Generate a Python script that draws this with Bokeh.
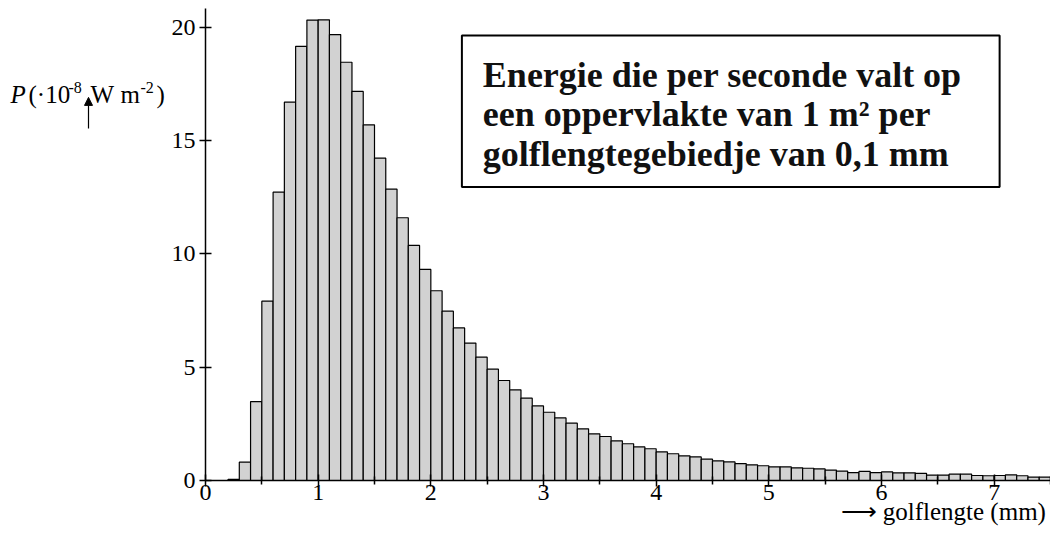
from bokeh.plotting import figure
from bokeh.layouts import row
from bokeh.models import (FixedTicker, Label, BoxAnnotation, Arrow, NormalHead,
                          Range1d, ColumnDataSource, Title)
from bokeh.embed import file_html
from bokeh.resources import INLINE

# wavelength bin starts (mm), bin width 0.1 mm
bin_start = [0.2, 0.3, 0.4, 0.5, 0.6, 0.7, 0.8, 0.9, 1.0, 1.1,
             1.2, 1.3, 1.4, 1.5, 1.6, 1.7, 1.8, 1.9, 2.0, 2.1,
             2.2, 2.3, 2.4, 2.5, 2.6, 2.7, 2.8, 2.9, 3.0, 3.1,
             3.2, 3.3, 3.4, 3.5, 3.6, 3.7, 3.8, 3.9, 4.0, 4.1,
             4.2, 4.3, 4.4, 4.5, 4.6, 4.7, 4.8, 4.9, 5.0, 5.1,
             5.2, 5.3, 5.4, 5.5, 5.6, 5.7, 5.8, 5.9, 6.0, 6.1,
             6.2, 6.3, 6.4, 6.5, 6.6, 6.7, 6.8, 6.9, 7.0, 7.1,
             7.2, 7.3, 7.4]
bin_width = 0.1
# power per bin (1e-8 W m^-2)
power = [0.05, 0.81, 3.48, 7.91, 12.72, 16.69, 19.15, 20.31, 20.32, 19.67,
         18.45, 17.16, 15.69, 14.22, 12.85, 11.59, 10.37, 9.31, 8.37, 7.47,
         6.73, 6.06, 5.44, 4.91, 4.41, 4.00, 3.63, 3.29, 3.01, 2.76,
         2.53, 2.28, 2.06, 1.94, 1.75, 1.62, 1.48, 1.40, 1.26, 1.18,
         1.09, 1.04, 0.94, 0.87, 0.82, 0.74, 0.69, 0.65, 0.60, 0.60,
         0.56, 0.54, 0.51, 0.46, 0.41, 0.35, 0.40, 0.35, 0.38, 0.34,
         0.34, 0.31, 0.24, 0.24, 0.28, 0.28, 0.22, 0.21, 0.22, 0.25,
         0.21, 0.15, 0.15]
x_ticks = [0, 1, 2, 3, 4, 5, 6, 7]
x_minor_ticks = [0.5, 1.5, 2.5, 3.5, 4.5, 5.5, 6.5, 7.5]
y_ticks = [0, 5, 10, 15, 20]

x_label = "\u27f6 golflengte (mm)"
# y label pieces: (text, italic?, superscript?)
y_label_parts = [("P", True, False), ("(·10", False, False), ("-8", False, True),
                 ("W", False, False), ("m", False, False), ("-2", False, True),
                 (")", False, False)]
box_lines = ["Energie die per seconde valt op",
             "een oppervlakte van 1 m² per",
             "golflengtegebiedje van 0,1 mm"]

SERIF = "Liberation Serif"
TOTAL_W, H = 1050, 531
LW = 168                      # left strip holding the y label
W = TOTAL_W - LW              # main figure width
FRAME_L, FRAME_T, FRAME_B = 203, 8, 480   # pixels of the plot frame
X0, X1 = 0.0, 7.5
Y0, Y1 = 0.0, 20.82
FW = TOTAL_W - FRAME_L
FH = FRAME_B - FRAME_T

def px2x(px):
    return X0 + (px - FRAME_L) / FW * (X1 - X0)

def py2y(py):
    return Y0 + (FRAME_B - py) / FH * (Y1 - Y0)

# ---------- left strip with the y-axis label ----------
left = figure(width=LW, height=H, output_backend="svg", toolbar_location=None,
              x_range=Range1d(0, LW), y_range=Range1d(H, 0),
              x_axis_location=None, y_axis_location=None, min_border=0)
left.outline_line_color = None
left.grid.grid_line_color = None
left.background_fill_color = "white"
left.border_fill_color = "white"
part_x = [10, 28, 68, 90, 120, 140, 156]
for (txt, ital, sup), xx in zip(y_label_parts, part_x):
    left.add_layout(Label(x=xx, y=(89 if sup else 97), text=txt, text_font=SERIF,
                          text_font_size=("16px" if sup else "25px"),
                          text_font_style=("italic" if ital else "normal"),
                          text_baseline="alphabetic", text_color="black"))
left.add_layout(Arrow(x_start=88, y_start=135, x_end=88, y_end=100,
                      line_color="black", line_width=1.2,
                      end=NormalHead(size=8, fill_color="black", line_color="black")))

# ---------- main chart ----------
p = figure(width=W, height=H, output_backend="svg", toolbar_location=None,
           x_range=Range1d(X0, X1), y_range=Range1d(Y0, Y1),
           min_border_left=FRAME_L - LW, min_border_right=0,
           min_border_top=FRAME_T, min_border_bottom=H - FRAME_B)
p.background_fill_color = "white"
p.border_fill_color = "white"
p.outline_line_color = None
p.xgrid.grid_line_color = None
p.ygrid.grid_line_color = None

src = ColumnDataSource(dict(left=bin_start,
                            right=[b + bin_width for b in bin_start],
                            top=power))
p.quad(left="left", right="right", bottom=0, top="top", source=src,
       fill_color="#d2d2d2", line_color="black", line_width=1.2)

for ax in (p.xaxis[0], p.yaxis[0]):
    ax.axis_line_color = "black"
    ax.axis_line_width = 1.5
    ax.major_tick_line_color = "black"
    ax.major_tick_line_width = 1.5
    ax.major_label_text_font = SERIF
    ax.major_label_text_font_size = "24px"
    ax.major_label_text_color = "black"
    ax.major_tick_in = 6
    ax.major_tick_out = 6

xa = p.xaxis[0]
xa.ticker = FixedTicker(ticks=x_ticks, minor_ticks=x_minor_ticks)
xa.minor_tick_line_color = "black"
xa.minor_tick_line_width = 1.5
xa.minor_tick_in = 4
xa.minor_tick_out = 4
xa.major_label_standoff = -2

ya = p.yaxis[0]
ya.ticker = FixedTicker(ticks=y_ticks)
ya.minor_tick_line_color = None
ya.major_label_standoff = 4

# x-axis caption, in the panel below the axis
p.add_layout(Title(text=x_label, align="left", offset=635, vertical_align="bottom",
                   standoff=-14, text_font=SERIF, text_font_size="25px",
                   text_font_style="normal", text_color="black"), "below")

# annotation box
p.add_layout(BoxAnnotation(left=px2x(460), right=px2x(999), top=py2y(35), bottom=py2y(186.5),
                           fill_color="white", fill_alpha=1.0, line_color="black",
                           line_width=2, line_alpha=1.0))
for txt, base in zip(box_lines, [74, 113.5, 153]):
    p.add_layout(Label(x=px2x(481), y=py2y(base), text=txt, text_font=SERIF,
                       text_font_size="36px", text_font_style="bold",
                       text_color="#111111", text_baseline="alphabetic",
                       text_align="left"))

lay = row(left, p)
open("out.html", "w").write(file_html(lay, INLINE))
